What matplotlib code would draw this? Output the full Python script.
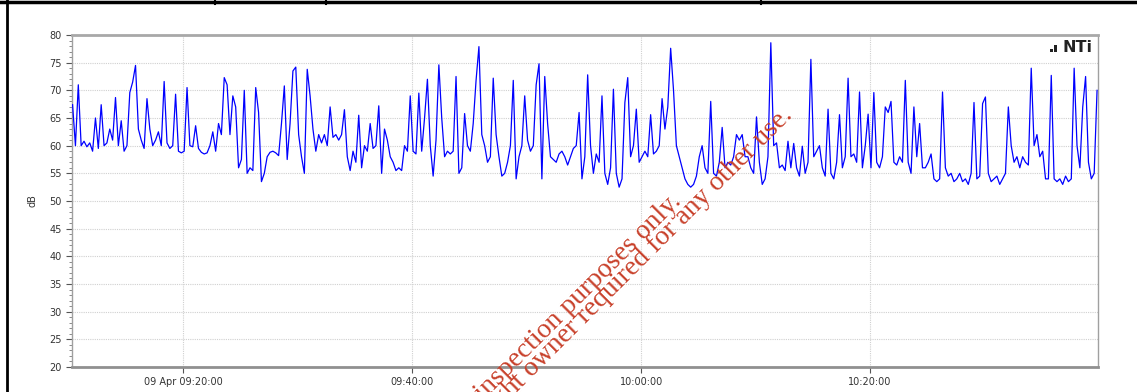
import numpy as np
import matplotlib
matplotlib.use("Agg")
import matplotlib.pyplot as plt
import matplotlib.dates as mdates
from matplotlib.lines import Line2D
from matplotlib.patches import Rectangle
from datetime import datetime, timedelta

# Messreihe: Pegel in dB, ein Wert alle 15 s ab 09:10:20
t_start = datetime(2019, 4, 9, 9, 10, 20)
step_s = 15

level_db = [
    67.4, 60, 71, 60, 60.8, 59.8, 60.5, 59, 65, 59.5, 67.4, 60, 60.5, 63, 61, 68.7, 60, 64.5, 59, 60,
    69.6, 71.5, 74.5, 63, 61, 59.5, 68.5, 63, 60, 61, 62.5, 60, 71.6, 60.5, 59.5, 60, 69.3, 59, 58.7, 59,
    70.5, 60, 59.8, 63.6, 59.5, 58.8, 58.5, 58.7, 60, 62.5, 59, 64, 62, 72.3, 71, 62, 69, 67, 56, 57.5,
    70, 55, 56, 55.5, 70.5, 66, 53.5, 55, 58, 58.8, 59, 58.7, 58.2, 64, 70.8, 57.5, 64, 73.5, 74.2, 62,
    58, 55, 73.8, 69, 63, 59, 62, 60.5, 62, 60, 67, 61.5, 62, 61, 62, 66.5, 58, 55.5, 59, 57,
    65.5, 56, 60, 59, 64, 59.5, 60, 67.2, 55, 63, 61, 58, 57, 55.5, 56, 55.5, 60, 59, 69, 59,
    58.5, 69.5, 59, 65, 72, 60, 54.5, 61, 74.6, 65, 58, 59, 58.5, 59, 72.5, 55, 56, 65.8, 60, 59,
    64, 71.8, 77.9, 62, 60, 57, 58, 72.2, 62, 58, 54.5, 55, 57, 60, 71.8, 54, 58, 60, 69, 61,
    59, 60, 71, 74.8, 54, 72.5, 64, 58, 57.5, 57, 58.5, 59, 58, 56.5, 58, 59.5, 60, 66, 54, 58,
    72.8, 60, 55, 58.5, 57, 69, 55, 53, 56, 70.2, 55, 52.5, 54, 67.8, 72.3, 58, 60, 66.6, 57, 58,
    59, 58, 65.6, 58.5, 59, 60, 68.5, 63, 67, 77.6, 70, 60, 58, 56, 54, 53, 52.5, 53, 54.5, 58,
    60, 56, 55, 68, 55, 54.5, 57, 63.3, 56, 57, 56.5, 58, 62, 61, 62, 58, 58, 56, 55, 65.2,
    57, 53, 54, 58, 78.6, 60, 60.5, 56, 56.5, 55.5, 60.8, 56, 60.4, 56, 54.5, 59.9, 55, 57, 75.6, 58,
    59, 60, 56, 54.5, 66.6, 55, 54, 57, 65.6, 56, 58, 72.2, 58, 58.5, 57, 69.7, 56, 60, 65.7, 56,
    69.6, 57, 56, 58, 67, 66, 68, 57, 56.5, 58, 57, 71.8, 57, 55, 67, 58, 64, 56, 56, 57,
    58.5, 54, 53.5, 54, 69.7, 56, 54.5, 55, 53.5, 54, 55, 53.5, 54, 53, 55, 67.8, 54, 54.5, 67.6, 68.8,
    55, 53.5, 54, 54.5, 53, 54, 55, 67, 60, 57, 58, 56, 58, 57, 56.5, 74, 60, 62, 58, 59,
    54, 54, 72.7, 54, 53.5, 54, 53, 54.5, 53.5, 54, 74, 60, 56, 67, 72.5, 57, 54, 55, 70,
]

times = [t_start + timedelta(seconds=step_s * i) for i in range(len(level_db))]

x_min = datetime(2019, 4, 9, 9, 10, 17)
x_max = datetime(2019, 4, 9, 10, 39, 55)
x_ticks = [datetime(2019, 4, 9, 9, 20), datetime(2019, 4, 9, 9, 40),
           datetime(2019, 4, 9, 10, 0), datetime(2019, 4, 9, 10, 20)]

fig = plt.figure(figsize=(11.37, 3.92), dpi=100)
ax = fig.add_axes([72/1137, 1-367/392, (1098-72)/1137, (367-35)/392])

ax.plot(times, level_db, color='#0000ff', lw=0.9, zorder=3)

ax.set_xlim(x_min, x_max)
ax.set_ylim(20, 80)
ax.set_yticks(np.arange(20, 81, 5))
ax.set_yticks(np.arange(20, 81, 1), minor=True)
ax.set_xticks(x_ticks)

def fmt_time(v, pos):
    d = mdates.num2date(v)
    if pos == 0:
        return d.strftime('%d %b %H:%M:%S')
    return d.strftime('%H:%M:%S')

ax.xaxis.set_major_formatter(plt.FuncFormatter(fmt_time))

ax.grid(True, which='major', color='#d0d0d0', ls=(0, (1, 1)), lw=0.8)
ax.tick_params(axis='both', which='major', labelsize=7, colors='#555555', labelcolor='#333333', length=4, width=0.8)
ax.tick_params(axis='y', which='minor', colors='#777777', length=2.5, width=0.6)
ax.tick_params(axis='x', pad=3)

for s in ['left', 'right']:
    ax.spines[s].set_color('#a0a0a0')
    ax.spines[s].set_linewidth(1.0)
ax.spines['top'].set_color('#a8a8a8')
ax.spines['top'].set_linewidth(2.0)
ax.spines['bottom'].set_color('#909090')
ax.spines['bottom'].set_linewidth(2.0)

ax.set_ylabel('dB', fontsize=7, color='#333333', labelpad=8)

# NTi Logo oben rechts
fig.text(1093/1137, 1-52/392, 'NTi', fontsize=11.5, fontweight='bold', color='#222222',
         ha='right', va='baseline')
fig.add_artist(Rectangle((1050/1137, 1-52/392), 2.5/1137, 3.5/392, transform=fig.transFigure,
                         color='#222222', lw=0))
fig.add_artist(Rectangle((1054/1137, 1-52/392), 2.5/1137, 7/392, transform=fig.transFigure,
                         color='#222222', lw=0))

# Wasserzeichen
wm = dict(fontsize=20, color='#c8402a', family='Liberation Serif', rotation=45,
          rotation_mode='anchor', ha='right', va='baseline', zorder=10)
fig.text(682/1137, 1-202/392, 'for inspection purposes only.', **wm)
fig.text(793/1137, 1-116/392, 'copyright owner required for any other use.', **wm)

# Seitenrahmen
fig.add_artist(Line2D([0, 1], [1-1.5/392, 1-1.5/392], color='black', lw=2.5))
fig.add_artist(Line2D([7/1137, 7/1137], [0, 1], color='black', lw=2))
for xp in [215, 326, 761]:
    fig.add_artist(Line2D([xp/1137, xp/1137], [1-4/392, 1], color='black', lw=1.5))

fig.savefig('out.png', dpi=100)
